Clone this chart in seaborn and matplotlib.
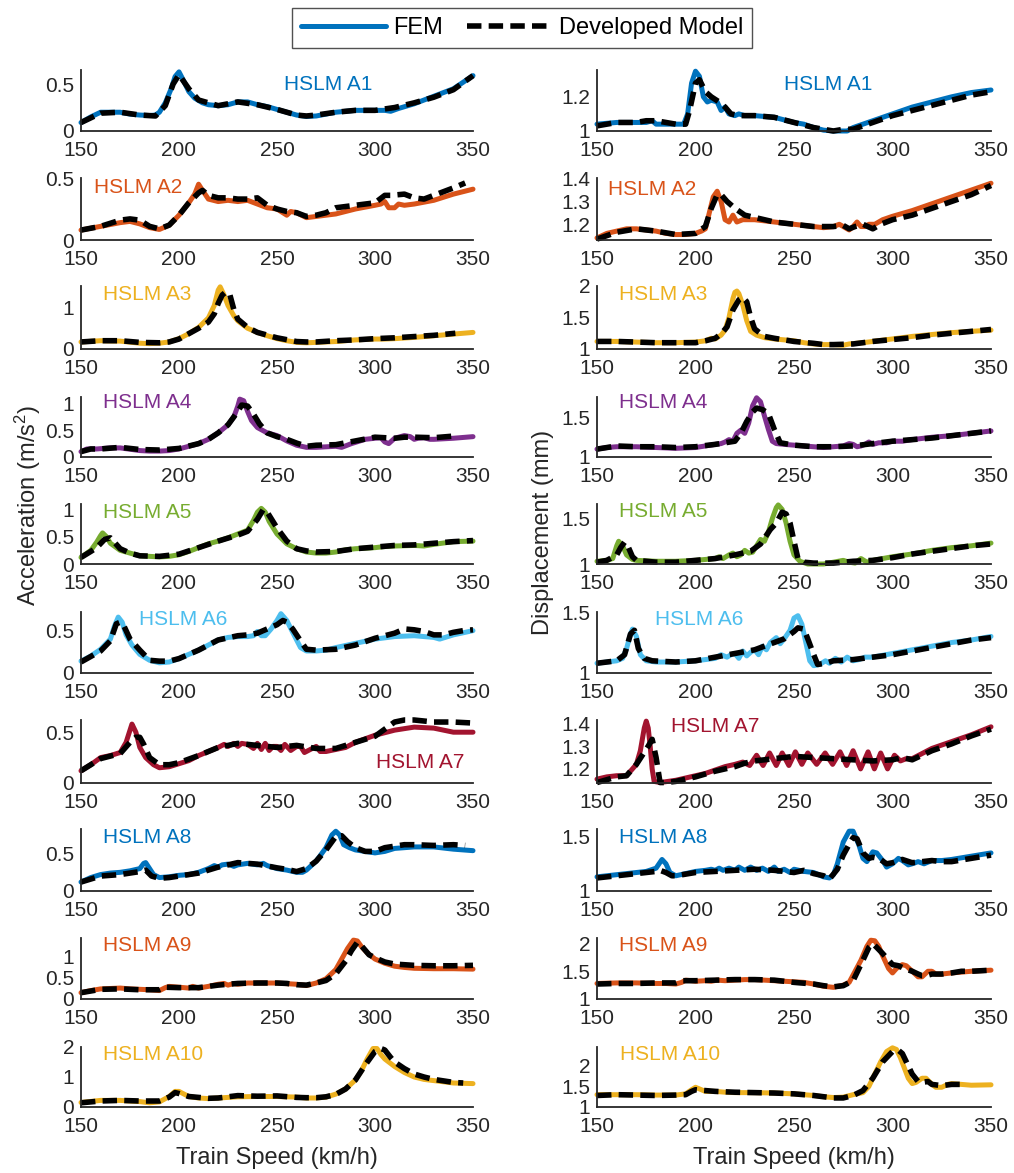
import matplotlib
matplotlib.use("Agg")
import matplotlib.pyplot as plt
import pandas as pd
import seaborn as sns
from matplotlib.lines import Line2D
from matplotlib.ticker import FuncFormatter

# ---------------------------------------------------------------------------
# Peak responses vs. train speed, (speed km/h, value) pairs.
# acc_* : mid-span acceleration (m/s^2), disp_* : mid-span displacement (mm)
# *_fem : finite element model, *_dm : developed model
# ---------------------------------------------------------------------------
acc_fem_A1 = [(150, .09), (155, .15), (160, .2), (165, .2), (170, .2), (175, .18), (180, .17), (185, .165),
              (188, .17), (190, .2), (193, .3), (196, .45), (198, .58), (200, .63), (202, .55), (205, .42),
              (208, .35), (212, .3), (215, .28), (220, .27), (225, .28), (230, .31), (235, .31), (240, .28),
              (245, .26), (250, .23), (255, .2), (260, .17), (265, .155), (270, .16), (275, .18), (280, .2),
              (285, .21), (290, .22), (300, .22), (305, .22), (308, .21), (312, .24), (320, .29), (330, .37),
              (340, .45), (345, .52), (350, .59)]
acc_dm_A1 = [(150, .09), (160, .19), (170, .2), (180, .17), (188, .16), (193, .27), (197, .5), (200, .6),
             (205, .45), (210, .33), (215, .3), (220, .27), (230, .31), (240, .28), (250, .23), (260, .17),
             (265, .16), (270, .17), (280, .2), (290, .22), (300, .22), (310, .25), (320, .3), (330, .36),
             (340, .44), (350, .59)]

acc_fem_A2 = [(150, .08), (160, .11), (170, .14), (175, .15), (180, .13), (185, .1), (190, .085), (195, .12),
              (200, .2), (205, .3), (208, .37), (210, .45), (212, .4), (215, .33), (220, .31), (225, .32),
              (230, .31), (235, .32), (240, .29), (245, .26), (250, .25), (253, .22), (255, .2), (257, .23),
              (260, .22), (265, .18), (270, .19), (280, .21), (290, .25), (300, .28), (303, .29), (305, .31),
              (307, .26), (310, .26), (312, .29), (315, .28), (320, .29), (330, .32), (340, .37), (350, .41)]
acc_dm_A2 = [(150, .08), (160, .11), (170, .16), (175, .17), (180, .16), (185, .11), (190, .09), (195, .12),
             (200, .2), (205, .3), (210, .38), (212, .4), (215, .36), (220, .34), (225, .34), (230, .33),
             (235, .33), (240, .34), (245, .28), (250, .25), (255, .23), (260, .22), (265, .19), (270, .2),
             (275, .22), (280, .26), (290, .28), (300, .3), (305, .36), (308, .36), (315, .37), (320, .34),
             (325, .33), (330, .36), (340, .42), (346, .46)]

acc_fem_A3 = [(150, .17), (160, .2), (170, .19), (180, .14), (185, .13), (190, .14), (195, .17), (200, .25),
              (205, .37), (210, .52), (215, .75), (218, 1.05), (220, 1.42), (221, 1.5), (223, 1.3), (225, 1.05),
              (228, .8), (230, .68), (235, .5), (240, .4), (245, .32), (250, .25), (255, .2), (260, .16),
              (265, .15), (270, .16), (280, .18), (290, .22), (300, .24), (305, .24), (310, .25), (320, .28),
              (330, .32), (340, .36), (350, .4)]
acc_dm_A3 = [(150, .17), (160, .2), (170, .2), (180, .16), (190, .15), (195, .17), (200, .24), (210, .5),
             (215, .65), (218, .85), (220, 1.1), (222, 1.3), (224, 1.38), (226, 1.3), (228, .95), (230, .72),
             (235, .52), (240, .4), (250, .27), (260, .18), (265, .17), (270, .17), (280, .2), (290, .22),
             (300, .25), (310, .27), (320, .3), (330, .33), (341, .38)]

acc_fem_A4 = [(150, .1), (153, .15), (158, .15), (165, .17), (170, .17), (180, .12), (185, .11), (190, .11),
              (195, .12), (200, .15), (210, .25), (215, .33), (220, .45), (225, .6), (228, .75), (230, .95),
              (231, 1.08), (233, 1.05), (235, .85), (237, .68), (240, .55), (245, .45), (250, .4), (255, .3),
              (260, .22), (265, .18), (270, .18), (280, .2), (283, .18), (288, .25), (295, .33), (300, .35),
              (303, .36), (305, .28), (307, .25), (310, .35), (315, .4), (318, .38), (320, .33), (322, .35),
              (325, .36), (328, .33), (330, .33), (340, .35), (350, .38)]
acc_dm_A4 = [(150, .1), (155, .15), (160, .15), (170, .18), (180, .14), (190, .13), (200, .16), (210, .25),
             (215, .33), (220, .45), (225, .6), (230, .85), (232, .97), (235, .95), (238, .8), (241, .62),
             (245, .45), (250, .38), (255, .33), (260, .26), (265, .2), (270, .22), (280, .23), (290, .3),
             (300, .37), (310, .35), (315, .37), (320, .37), (330, .36), (340, .39)]

acc_fem_A5 = [(150, .12), (155, .25), (158, .4), (160, .52), (161, .57), (163, .5), (165, .38), (170, .25),
              (175, .2), (180, .15), (185, .14), (190, .13), (195, .14), (200, .17), (205, .23), (210, .3),
              (215, .37), (220, .42), (225, .48), (230, .55), (235, .62), (238, .8), (240, .95), (242, 1.02),
              (244, .95), (246, .78), (250, .55), (255, .37), (260, .28), (265, .22), (270, .2), (275, .2),
              (280, .22), (285, .26), (290, .28), (300, .3), (305, .32), (310, .33), (320, .34), (325, .33),
              (330, .36), (340, .41), (350, .42)]
acc_dm_A5 = [(150, .12), (155, .23), (158, .3), (162, .45), (165, .48), (168, .36), (170, .28), (175, .2),
             (180, .15), (190, .14), (200, .18), (210, .3), (220, .42), (230, .53), (235, .6), (240, .82),
             (243, 1.0), (245, .95), (250, .66), (255, .42), (260, .28), (265, .24), (270, .22), (280, .23),
             (290, .28), (300, .31), (310, .34), (320, .35), (330, .38), (340, .41), (350, .43)]

acc_fem_A6 = [(150, .14), (155, .2), (160, .28), (165, .4), (167, .55), (169, .66), (171, .6), (173, .45),
              (176, .33), (180, .22), (185, .15), (190, .12), (195, .13), (200, .17), (210, .27), (215, .33),
              (220, .39), (225, .42), (230, .43), (235, .43), (238, .44), (240, .49), (242, .44), (244, .44),
              (247, .52), (250, .62), (252, .7), (255, .62), (258, .48), (262, .3), (265, .26), (270, .26),
              (275, .27), (280, .3), (290, .35), (300, .4), (310, .43), (320, .44), (330, .42), (333, .4),
              (340, .45), (350, .5)]
acc_dm_A6 = [(150, .13), (160, .26), (165, .38), (168, .58), (170, .6), (172, .55), (175, .4), (180, .27),
             (185, .15), (190, .14), (195, .14), (200, .17), (210, .27), (220, .39), (230, .44), (235, .45),
             (240, .47), (245, .52), (250, .57), (253, .62), (255, .6), (258, .52), (262, .38), (265, .28),
             (270, .27), (280, .28), (290, .33), (300, .41), (310, .47), (315, .52), (320, .51), (325, .49),
             (330, .45), (335, .45), (340, .48), (345, .5), (350, .51)]

acc_fem_A7 = [(150, .12), (155, .18), (160, .25), (165, .27), (170, .3), (173, .4), (175, .52), (176, .58),
              (178, .5), (180, .35), (183, .25), (187, .18), (190, .15), (195, .16), (200, .19), (205, .22),
              (210, .27), (215, .31), (220, .35), (223, .38), (225, .36), (228, .39), (230, .36), (232, .39),
              (235, .38), (238, .34), (240, .39), (242, .33), (244, .39), (246, .32), (248, .36), (250, .36),
              (252, .32), (254, .38), (257, .32), (260, .36), (262, .36), (264, .3), (267, .33), (270, .36),
              (272, .31), (275, .31), (280, .33), (285, .35), (290, .4), (300, .47), (310, .52), (320, .55),
              (330, .54), (335, .52), (340, .5), (350, .5)]
acc_dm_A7 = [(150, .12), (160, .24), (170, .29), (175, .4), (178, .45), (180, .45), (182, .38), (185, .25),
             (190, .18), (195, .18), (200, .2), (210, .27), (220, .35), (230, .39), (240, .37), (250, .35),
             (260, .37), (270, .34), (280, .34), (290, .4), (300, .46), (305, .53), (310, .6), (315, .62),
             (320, .62), (330, .6), (340, .6), (350, .59)]

acc_fem_A8 = [(150, .12), (155, .18), (160, .22), (165, .24), (170, .25), (175, .27), (180, .3), (182, .37),
              (183, .38), (185, .3), (187, .22), (190, .18), (195, .19), (200, .21), (205, .22), (210, .25),
              (215, .3), (218, .34), (220, .32), (222, .35), (225, .36), (228, .33), (230, .35), (235, .37),
              (240, .35), (243, .37), (245, .34), (250, .3), (255, .28), (260, .25), (263, .25), (265, .28),
              (270, .4), (275, .58), (278, .75), (280, .8), (282, .75), (284, .62), (287, .58), (290, .55),
              (295, .53), (300, .51), (305, .53), (310, .57), (315, .58), (320, .59), (330, .59), (340, .56),
              (350, .54)]
acc_dm_A8 = [(150, .12), (160, .2), (170, .22), (180, .26), (183, .28), (186, .2), (190, .17), (195, .18),
             (200, .2), (210, .24), (220, .32), (230, .38), (240, .36), (250, .31), (255, .29), (260, .26),
             (265, .3), (270, .4), (275, .55), (280, .73), (283, .74), (286, .66), (290, .58), (295, .53),
             (300, .53), (305, .58), (310, .6), (315, .62), (320, .62), (330, .61), (340, .62), (346, .61)]

acc_fem_A9 = [(150, .15), (155, .2), (160, .24), (165, .25), (170, .26), (175, .24), (180, .23), (185, .22),
              (190, .2), (193, .27), (195, .3), (200, .28), (205, .26), (207, .3), (210, .26), (215, .3),
              (220, .35), (223, .37), (225, .33), (228, .37), (230, .35), (235, .38), (240, .38), (250, .38),
              (260, .35), (265, .32), (270, .38), (275, .48), (280, .7), (283, .95), (286, 1.2), (289, 1.4),
              (291, 1.38), (293, 1.25), (296, 1.1), (300, .95), (305, .85), (310, .78), (315, .75), (320, .73),
              (330, .72), (340, .72), (350, .71)]
acc_dm_A9 = [(150, .15), (160, .23), (170, .24), (180, .22), (190, .22), (193, .28), (200, .27), (210, .27),
             (220, .33), (230, .37), (240, .38), (250, .38), (255, .37), (260, .34), (265, .33), (270, .38),
             (275, .44), (280, .6), (285, .9), (288, 1.15), (291, 1.35), (293, 1.27), (297, 1.05), (300, .98),
             (305, .88), (310, .83), (320, .8), (330, .79), (340, .79), (350, .8)]

acc_fem_A10 = [(150, .15), (160, .22), (170, .22), (180, .18), (185, .14), (190, .17), (195, .35), (198, .52),
               (200, .52), (202, .45), (205, .35), (210, .3), (215, .28), (220, .3), (230, .34), (240, .35),
               (250, .35), (260, .33), (265, .3), (270, .3), (275, .33), (280, .43), (285, .6), (290, .9),
               (293, 1.2), (296, 1.6), (299, 1.95), (301, 1.95), (303, 1.75), (305, 1.6), (310, 1.35),
               (315, 1.15), (320, 1.0), (325, .92), (330, .88), (340, .8), (350, .78)]
acc_dm_A10 = [(150, .14), (160, .2), (170, .22), (180, .2), (190, .2), (195, .33), (198, .48), (200, .45),
              (205, .35), (210, .32), (215, .29), (220, .3), (230, .38), (240, .36), (250, .37), (260, .32),
              (265, .31), (270, .31), (275, .34), (280, .42), (285, .6), (290, .9), (295, 1.4), (300, 1.85),
              (303, 1.95), (305, 1.9), (308, 1.65), (310, 1.5), (315, 1.28), (320, 1.1), (325, 1.0),
              (330, .92), (340, .82), (345, .8)]

disp_fem_A1 = [(150, 1.04), (160, 1.05), (170, 1.05), (175, 1.05), (178, 1.06), (180, 1.04), (190, 1.04),
               (194, 1.04), (196, 1.1), (198, 1.28), (200, 1.35), (202, 1.32), (204, 1.2), (206, 1.17),
               (208, 1.18), (211, 1.17), (213, 1.12), (215, 1.14), (217, 1.1), (220, 1.09), (222, 1.1),
               (225, 1.09), (230, 1.09), (240, 1.08), (250, 1.05), (255, 1.04), (260, 1.02), (265, 1.005),
               (270, 1.0), (277, 1.0), (280, 1.02), (290, 1.06), (300, 1.1), (310, 1.14), (320, 1.17),
               (330, 1.2), (340, 1.225), (350, 1.24)]
disp_dm_A1 = [(150, 1.03), (160, 1.05), (170, 1.05), (175, 1.06), (180, 1.06), (190, 1.04), (195, 1.04),
              (197, 1.12), (200, 1.28), (202, 1.3), (205, 1.23), (208, 1.2), (212, 1.17), (215, 1.14),
              (218, 1.1), (222, 1.09), (230, 1.09), (240, 1.08), (250, 1.05), (260, 1.02), (265, 1.01),
              (270, 1.0), (275, 1.01), (280, 1.01), (290, 1.05), (300, 1.09), (310, 1.12), (320, 1.15),
              (330, 1.18), (340, 1.21), (350, 1.23)]

disp_fem_A2 = [(150, 1.14), (155, 1.16), (160, 1.17), (165, 1.18), (170, 1.18), (175, 1.175), (180, 1.17),
               (185, 1.16), (190, 1.155), (195, 1.155), (200, 1.16), (203, 1.17), (205, 1.18), (207, 1.25),
               (209, 1.32), (211, 1.345), (213, 1.3), (215, 1.22), (217, 1.21), (219, 1.24), (221, 1.21),
               (224, 1.22), (230, 1.22), (235, 1.215), (240, 1.21), (245, 1.205), (250, 1.2), (255, 1.195),
               (260, 1.19), (265, 1.185), (270, 1.19), (273, 1.2), (275, 1.19), (278, 1.175), (280, 1.19),
               (282, 1.21), (284, 1.19), (286, 1.19), (288, 1.2), (291, 1.2), (295, 1.22), (300, 1.235),
               (310, 1.26), (320, 1.29), (330, 1.32), (340, 1.35), (350, 1.38)]
disp_dm_A2 = [(150, 1.135), (160, 1.165), (170, 1.18), (180, 1.17), (190, 1.155), (200, 1.16), (205, 1.19),
              (208, 1.27), (211, 1.33), (213, 1.33), (216, 1.3), (220, 1.27), (225, 1.24), (230, 1.23),
              (235, 1.22), (240, 1.21), (250, 1.2), (260, 1.19), (270, 1.19), (275, 1.195), (278, 1.18),
              (281, 1.19), (285, 1.2), (290, 1.18), (294, 1.2), (300, 1.22), (310, 1.24), (320, 1.27),
              (330, 1.3), (340, 1.33), (350, 1.37)]

disp_fem_A3 = [(150, 1.12), (160, 1.12), (170, 1.11), (180, 1.1), (190, 1.1), (200, 1.11), (205, 1.13),
               (208, 1.17), (210, 1.16), (213, 1.22), (215, 1.3), (217, 1.5), (219, 1.8), (220, 1.9),
               (221, 1.92), (222, 1.88), (224, 1.7), (226, 1.45), (228, 1.28), (231, 1.22), (235, 1.18),
               (240, 1.16), (250, 1.13), (255, 1.1), (260, 1.08), (265, 1.07), (270, 1.07), (275, 1.06),
               (278, 1.08), (285, 1.1), (290, 1.12), (300, 1.16), (310, 1.2), (320, 1.23), (330, 1.26),
               (340, 1.28), (350, 1.3)]
disp_dm_A3 = [(150, 1.12), (160, 1.12), (170, 1.11), (180, 1.1), (190, 1.1), (200, 1.1), (205, 1.13),
              (210, 1.17), (213, 1.24), (216, 1.35), (219, 1.62), (222, 1.78), (224, 1.82), (226, 1.75),
              (228, 1.5), (230, 1.32), (232, 1.27), (235, 1.2), (240, 1.17), (250, 1.12), (260, 1.09),
              (265, 1.07), (270, 1.07), (280, 1.08), (290, 1.12), (300, 1.15), (310, 1.18), (320, 1.22),
              (330, 1.25), (340, 1.28), (350, 1.31)]

disp_fem_A4 = [(150, 1.1), (155, 1.12), (160, 1.13), (170, 1.13), (180, 1.12), (190, 1.11), (200, 1.12),
               (205, 1.14), (210, 1.16), (213, 1.17), (215, 1.19), (217, 1.22), (219, 1.2), (221, 1.3),
               (223, 1.34), (225, 1.3), (227, 1.43), (229, 1.65), (231, 1.75), (233, 1.7), (235, 1.52),
               (237, 1.35), (239, 1.2), (241, 1.17), (245, 1.16), (250, 1.15), (255, 1.14), (260, 1.13),
               (265, 1.12), (270, 1.13), (275, 1.14), (278, 1.17), (280, 1.16), (282, 1.13), (284, 1.14),
               (286, 1.16), (288, 1.19), (290, 1.16), (293, 1.18), (297, 1.18), (300, 1.2), (305, 1.2),
               (310, 1.22), (320, 1.25), (330, 1.27), (340, 1.3), (350, 1.33)]
disp_dm_A4 = [(150, 1.1), (160, 1.14), (170, 1.13), (180, 1.13), (190, 1.12), (200, 1.13), (210, 1.16),
              (215, 1.18), (220, 1.2), (223, 1.3), (226, 1.45), (229, 1.57), (231, 1.62), (234, 1.6),
              (237, 1.55), (240, 1.35), (243, 1.18), (250, 1.15), (260, 1.13), (270, 1.13), (280, 1.14),
              (290, 1.17), (300, 1.2), (310, 1.22), (320, 1.24), (330, 1.27), (340, 1.3), (350, 1.33)]

disp_fem_A5 = [(150, 1.03), (155, 1.04), (158, 1.06), (160, 1.2), (161, 1.25), (163, 1.2), (165, 1.1),
               (168, 1.05), (170, 1.04), (180, 1.03), (190, 1.03), (200, 1.04), (210, 1.06), (212, 1.08),
               (214, 1.06), (217, 1.1), (219, 1.12), (221, 1.08), (223, 1.1), (225, 1.15), (227, 1.12),
               (229, 1.13), (231, 1.2), (233, 1.27), (235, 1.25), (237, 1.35), (239, 1.5), (241, 1.62),
               (242, 1.65), (244, 1.6), (246, 1.45), (248, 1.25), (250, 1.1), (253, 1.03), (257, 1.0),
               (265, 1.0), (270, 1.02), (275, 1.04), (278, 1.02), (281, 1.01), (284, 1.06), (287, 1.02),
               (290, 1.04), (300, 1.08), (310, 1.11), (320, 1.15), (330, 1.18), (340, 1.2), (350, 1.23)]
disp_dm_A5 = [(150, 1.02), (155, 1.04), (160, 1.1), (162, 1.18), (164, 1.24), (166, 1.18), (168, 1.08),
              (170, 1.04), (180, 1.02), (190, 1.02), (200, 1.04), (210, 1.06), (220, 1.1), (228, 1.14),
              (233, 1.22), (238, 1.38), (241, 1.45), (244, 1.57), (246, 1.55), (248, 1.45), (250, 1.25),
              (252, 1.06), (255, 1.02), (260, 1.01), (270, 1.01), (280, 1.03), (290, 1.04), (300, 1.07),
              (310, 1.11), (320, 1.14), (330, 1.17), (340, 1.2), (350, 1.22)]

disp_fem_A6 = [(150, 1.08), (155, 1.09), (160, 1.1), (163, 1.12), (165, 1.2), (167, 1.32), (168, 1.36),
               (170, 1.3), (172, 1.15), (175, 1.1), (180, 1.09), (190, 1.09), (200, 1.1), (205, 1.11),
               (210, 1.12), (213, 1.15), (216, 1.13), (218, 1.15), (220, 1.16), (222, 1.12), (224, 1.18),
               (226, 1.14), (228, 1.17), (230, 1.19), (232, 1.15), (234, 1.22), (236, 1.19), (238, 1.25),
               (241, 1.29), (243, 1.24), (245, 1.28), (248, 1.35), (250, 1.45), (252, 1.47), (254, 1.4),
               (256, 1.25), (258, 1.1), (260, 1.06), (263, 1.07), (266, 1.1), (268, 1.08), (271, 1.12),
               (274, 1.09), (277, 1.13), (280, 1.1), (283, 1.11), (286, 1.13), (290, 1.13), (300, 1.16),
               (310, 1.19), (320, 1.22), (330, 1.25), (340, 1.27), (350, 1.3)]
disp_dm_A6 = [(150, 1.08), (160, 1.1), (164, 1.15), (167, 1.32), (169, 1.35), (171, 1.2), (174, 1.12),
              (178, 1.1), (190, 1.09), (200, 1.1), (210, 1.13), (220, 1.16), (230, 1.19), (240, 1.25),
              (245, 1.28), (250, 1.34), (252, 1.37), (255, 1.36), (257, 1.28), (260, 1.15), (262, 1.07),
              (266, 1.08), (270, 1.1), (280, 1.11), (290, 1.13), (300, 1.15), (310, 1.18), (320, 1.21),
              (330, 1.24), (340, 1.27), (350, 1.29)]

disp_fem_A7 = [(150, 1.155), (155, 1.165), (160, 1.17), (165, 1.17), (168, 1.2), (170, 1.22), (172, 1.28),
               (174, 1.38), (175, 1.41), (176, 1.38), (177, 1.3), (178, 1.2), (179, 1.145), (182, 1.14),
               (190, 1.15), (200, 1.17), (205, 1.18), (210, 1.195), (215, 1.21), (220, 1.22), (224, 1.23),
               (227.5, 1.215), (231, 1.26), (234.3, 1.215), (237.6, 1.27), (241, 1.215), (244, 1.27),
               (247.4, 1.215), (250.7, 1.275), (254, 1.22), (257, 1.27), (261.5, 1.22), (265.8, 1.27),
               (269.6, 1.22), (273.4, 1.275), (276.7, 1.215), (280, 1.28), (283.8, 1.2), (287.6, 1.275),
               (290.8, 1.2), (294, 1.27), (297.5, 1.2), (301, 1.26), (304, 1.235), (307, 1.245), (310, 1.245),
               (320, 1.29), (330, 1.32), (340, 1.35), (350, 1.385)]
disp_dm_A7 = [(150, 1.14), (160, 1.165), (165, 1.17), (170, 1.22), (173, 1.26), (176, 1.3), (178, 1.33),
              (180, 1.25), (182, 1.14), (185, 1.14), (190, 1.145), (200, 1.165), (210, 1.19), (220, 1.21),
              (225, 1.225), (230, 1.235), (240, 1.245), (250, 1.255), (260, 1.25), (270, 1.245),
              (280, 1.24), (290, 1.235), (300, 1.24), (305, 1.25), (310, 1.24), (320, 1.28), (330, 1.31),
              (340, 1.345), (350, 1.375)]

disp_fem_A8 = [(150, 1.13), (160, 1.15), (165, 1.16), (170, 1.17), (175, 1.18), (180, 1.21), (183, 1.29),
               (185, 1.25), (187, 1.17), (190, 1.14), (195, 1.16), (200, 1.18), (205, 1.19), (208, 1.2),
               (210, 1.19), (212, 1.21), (214, 1.19), (217, 1.21), (220, 1.19), (222, 1.22), (225, 1.19),
               (228, 1.22), (231, 1.19), (234, 1.21), (237, 1.18), (240, 1.22), (242, 1.18), (245, 1.2),
               (248, 1.17), (250, 1.2), (255, 1.18), (260, 1.17), (265, 1.13), (268, 1.12), (270, 1.15),
               (272, 1.25), (275, 1.45), (278, 1.55), (280, 1.55), (283, 1.42), (285, 1.3), (287, 1.27),
               (290, 1.36), (292, 1.35), (295, 1.28), (297, 1.22), (300, 1.25), (303, 1.3), (305, 1.28),
               (308, 1.24), (310, 1.25), (313, 1.27), (316, 1.25), (320, 1.28), (325, 1.28), (330, 1.29),
               (340, 1.32), (350, 1.35)]
disp_dm_A8 = [(150, 1.12), (160, 1.14), (170, 1.16), (180, 1.18), (182, 1.19), (185, 1.17), (188, 1.14),
              (190, 1.14), (200, 1.17), (210, 1.18), (220, 1.19), (230, 1.2), (240, 1.19), (250, 1.17),
              (255, 1.19), (260, 1.16), (265, 1.14), (268, 1.11), (272, 1.2), (275, 1.33), (278, 1.43),
              (280, 1.49), (282, 1.48), (285, 1.35), (288, 1.3), (290, 1.31), (293, 1.3), (297, 1.25),
              (300, 1.26), (305, 1.29), (310, 1.26), (315, 1.27), (320, 1.28), (325, 1.27), (330, 1.27),
              (340, 1.3), (350, 1.33)]

disp_fem_A9 = [(150, 1.28), (160, 1.29), (170, 1.29), (180, 1.28), (185, 1.28), (190, 1.27), (193, 1.3),
               (195, 1.34), (198, 1.33), (200, 1.32), (205, 1.33), (208, 1.32), (211, 1.34), (215, 1.33),
               (220, 1.34), (225, 1.35), (230, 1.35), (240, 1.33), (250, 1.31), (255, 1.3), (260, 1.27),
               (265, 1.23), (270, 1.21), (275, 1.25), (278, 1.3), (281, 1.5), (284, 1.7), (287, 1.95),
               (289, 2.06), (291, 2.05), (293, 1.95), (295, 1.78), (298, 1.55), (300, 1.47), (302, 1.55),
               (305, 1.62), (307, 1.6), (310, 1.5), (313, 1.4), (315, 1.4), (318, 1.5), (320, 1.5),
               (322, 1.45), (325, 1.45), (330, 1.47), (340, 1.5), (350, 1.52)]
disp_dm_A9 = [(150, 1.27), (160, 1.28), (170, 1.28), (180, 1.29), (190, 1.29), (193, 1.33), (200, 1.33),
              (210, 1.34), (220, 1.35), (230, 1.35), (240, 1.34), (250, 1.3), (260, 1.27), (265, 1.24),
              (270, 1.22), (275, 1.24), (280, 1.33), (285, 1.7), (288, 1.93), (290, 2.0), (292, 1.93),
              (295, 1.82), (298, 1.7), (300, 1.62), (303, 1.6), (306, 1.55), (310, 1.5), (313, 1.45),
              (315, 1.42), (317, 1.42), (320, 1.45), (325, 1.45), (330, 1.47), (335, 1.5), (340, 1.5),
              (350, 1.52)]

disp_fem_A10 = [(150, 1.3), (160, 1.3), (170, 1.3), (180, 1.29), (190, 1.29), (195, 1.32), (198, 1.42),
                (200, 1.48), (202, 1.44), (205, 1.38), (210, 1.38), (215, 1.36), (220, 1.35), (230, 1.35),
                (240, 1.34), (250, 1.32), (260, 1.28), (265, 1.25), (270, 1.23), (275, 1.24), (280, 1.3),
                (285, 1.35), (288, 1.5), (291, 1.8), (294, 2.1), (297, 2.35), (300, 2.44), (302, 2.4),
                (304, 2.2), (306, 1.95), (308, 1.7), (310, 1.57), (312, 1.6), (315, 1.7), (317, 1.7),
                (320, 1.55), (322, 1.48), (325, 1.48), (328, 1.55), (330, 1.57), (335, 1.55), (340, 1.53),
                (350, 1.54)]
disp_dm_A10 = [(150, 1.28), (160, 1.3), (170, 1.29), (180, 1.28), (190, 1.29), (195, 1.3), (198, 1.38),
               (200, 1.42), (205, 1.4), (210, 1.38), (220, 1.36), (230, 1.35), (240, 1.34), (250, 1.32),
               (260, 1.28), (270, 1.22), (275, 1.22), (280, 1.28), (285, 1.4), (290, 1.7), (295, 2.1),
               (300, 2.35), (303, 2.38), (305, 2.3), (308, 2.0), (310, 1.8), (313, 1.62), (315, 1.6),
               (318, 1.62), (320, 1.55), (325, 1.52), (330, 1.55), (335, 1.55)]

train_names = ["HSLM A1", "HSLM A2", "HSLM A3", "HSLM A4", "HSLM A5",
               "HSLM A6", "HSLM A7", "HSLM A8", "HSLM A9", "HSLM A10"]
train_colors = ["#0072BD", "#D95319", "#EDB120", "#7E2F8E", "#77AC30",
                "#4DBEEE", "#A2142F", "#0072BD", "#D95319", "#EDB120"]

acc_fem = [acc_fem_A1, acc_fem_A2, acc_fem_A3, acc_fem_A4, acc_fem_A5,
           acc_fem_A6, acc_fem_A7, acc_fem_A8, acc_fem_A9, acc_fem_A10]
acc_dm = [acc_dm_A1, acc_dm_A2, acc_dm_A3, acc_dm_A4, acc_dm_A5,
          acc_dm_A6, acc_dm_A7, acc_dm_A8, acc_dm_A9, acc_dm_A10]
disp_fem = [disp_fem_A1, disp_fem_A2, disp_fem_A3, disp_fem_A4, disp_fem_A5,
            disp_fem_A6, disp_fem_A7, disp_fem_A8, disp_fem_A9, disp_fem_A10]
disp_dm = [disp_dm_A1, disp_dm_A2, disp_dm_A3, disp_dm_A4, disp_dm_A5,
           disp_dm_A6, disp_dm_A7, disp_dm_A8, disp_dm_A9, disp_dm_A10]

# axis limits / ticks per panel
acc_ylim = [(0, .65), (0, .5), (0, 1.52), (0, 1.12), (0, 1.1), (0, .72), (0, .62), (0, .83), (0, 1.45), (0, 2.0)]
acc_yticks = [[0, .5], [0, .5], [0, 1], [0, .5, 1], [0, .5, 1], [0, .5], [0, .5], [0, .5], [0, .5, 1], [0, 1, 2]]
disp_ylim = [(1.0, 1.357), (1.131, 1.403), (1.0, 2.0), (1.0, 1.76), (1.0, 1.66), (1.0, 1.5), (1.138, 1.415),
             (1.0, 1.57), (1.0, 2.1), (1.0, 2.46)]
disp_yticks = [[1, 1.2], [1.2, 1.3, 1.4], [1, 1.5, 2], [1, 1.5], [1, 1.5], [1, 1.5], [1.2, 1.3, 1.4],
               [1, 1.5], [1, 1.5, 2], [1, 1.5, 2]]
speed_ticks = [150, 200, 250, 300, 350]

# train label placement (axes fraction)
acc_label_pos = [(.63, .77), (.146, .85), (.17, .87), (.17, .9), (.168, .86), (.26, .88), (.865, .32),
                 (.168, .87), (.168, .87), (.184, .87)]
disp_label_pos = [(.586, .77), (.14, .82), (.168, .87), (.168, .9), (.168, .87), (.26, .88), (.30, .89),
                  (.168, .87), (.168, .87), (.185, .87)]

# ---------------------------------------------------------------------------
sns.set_theme(style="white")
plt.rcParams["font.family"] = ["Liberation Sans", "DejaVu Sans"]
plt.rcParams["mathtext.fontset"] = "custom"
plt.rcParams["mathtext.rm"] = "Liberation Sans"
plt.rcParams["mathtext.it"] = "Liberation Sans:italic"
INK = "#262626"

W, H = 1014, 1173
fig = plt.figure(figsize=(W / 100, H / 100), dpi=100)

row_top = [70, 178, 286, 397, 504, 612, 720, 829, 938, 1047]
row_bot = [131, 240, 349, 457, 564, 673, 783, 891, 999, 1107]
col_x = [(81, 473), (597, 991)]

fmt = FuncFormatter(lambda v, p: f"{v:g}")


def draw_panel(ax, fem, dm, color, name, pos, ylim, yticks):
    d_fem = pd.DataFrame(fem, columns=["speed", "value"])
    d_dm = pd.DataFrame(dm, columns=["speed", "value"])
    sns.lineplot(data=d_fem, x="speed", y="value", ax=ax, color=color, linewidth=3.6,
                 sort=False, estimator=None, solid_joinstyle="round", solid_capstyle="round")
    sns.lineplot(data=d_dm, x="speed", y="value", ax=ax, color="black", linewidth=4.0,
                 sort=False, estimator=None, linestyle="--")
    ax.lines[-1].set_dashes((2.6, 1.3))
    for ln in ax.lines:
        ln.set_clip_on(False)
    ax.set_xlim(150, 350)
    ax.set_ylim(*ylim)
    ax.set_xticks(speed_ticks)
    ax.set_yticks(yticks)
    ax.yaxis.set_major_formatter(fmt)
    ax.set_xlabel("")
    ax.set_ylabel("")
    for s in ["top", "right"]:
        ax.spines[s].set_visible(False)
    for s in ["left", "bottom"]:
        ax.spines[s].set_color(INK)
        ax.spines[s].set_linewidth(1.3)
    ax.tick_params(direction="in", length=4, width=1.2, colors=INK, labelsize=15,
                   labelcolor=INK)
    ax.tick_params(axis="x", pad=7)
    ax.tick_params(axis="y", pad=5)
    ax.patch.set_alpha(0)
    ax.text(pos[0], pos[1], name, transform=ax.transAxes, ha="center", va="center",
            fontsize=15, color=color)


for i in range(10):
    b = 1 - row_bot[i] / H
    h = (row_bot[i] - row_top[i]) / H
    for c, (x0, x1) in enumerate(col_x):
        ax = fig.add_axes([x0 / W, b, (x1 - x0) / W, h])
        if c == 0:
            draw_panel(ax, acc_fem[i], acc_dm[i], train_colors[i], train_names[i],
                       acc_label_pos[i], acc_ylim[i], acc_yticks[i])
        else:
            draw_panel(ax, disp_fem[i], disp_dm[i], train_colors[i], train_names[i],
                       disp_label_pos[i], disp_ylim[i], disp_yticks[i])

fig.text(28 / W, 1 - 505 / H, "Acceleration (m/s$^2$)", rotation=90, ha="center", va="center",
         fontsize=17, color=INK)
fig.text(543 / W, 1 - 532 / H, "Displacement (mm)", rotation=90, ha="center", va="center",
         fontsize=17, color=INK)
fig.text(277 / W, 1 - 1158 / H, "Train Speed (km/h)", ha="center", va="center", fontsize=17, color=INK)
fig.text(794 / W, 1 - 1158 / H, "Train Speed (km/h)", ha="center", va="center", fontsize=17, color=INK)

h_fem = Line2D([], [], color="#0072BD", linewidth=3.6)
h_dm = Line2D([], [], color="black", linewidth=4.0, linestyle="--", dashes=(2.6, 1.3))
leg = fig.legend([h_fem, h_dm], ["FEM", "Developed Model"], loc="center",
                 bbox_to_anchor=(522 / W, 1 - 28 / H), ncol=2, frameon=True, fancybox=False,
                 fontsize=17, handlelength=3.6, handletextpad=0.3, columnspacing=1.0,
                 borderpad=0.4, borderaxespad=0)
leg.get_frame().set_edgecolor(INK)
leg.get_frame().set_linewidth(1.0)
for t in leg.get_texts():
    t.set_color("black")

fig.savefig("out.png", dpi=100, facecolor="white")
